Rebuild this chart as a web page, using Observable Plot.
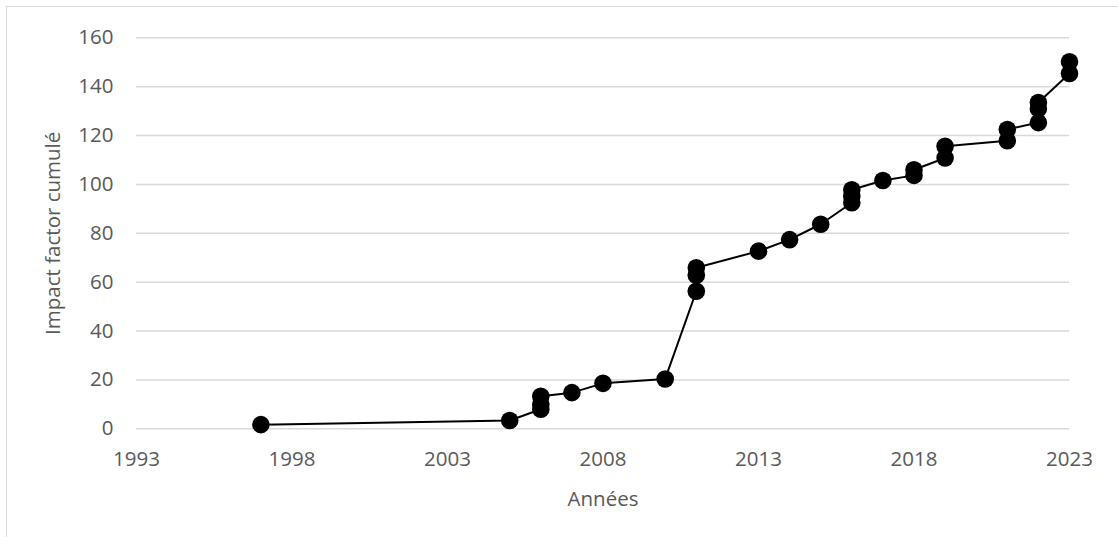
<!DOCTYPE html>
<html>
<head>
<meta charset="utf-8">
<script src="https://cdn.jsdelivr.net/npm/d3@7"></script>
<script src="https://cdn.jsdelivr.net/npm/@observablehq/plot@0.6"></script>
<style>
  html, body { margin: 0; padding: 0; background: #fff; }
  #wrap { position: relative; width: 1118px; height: 537px; overflow: hidden; }
  #frame { position: absolute; left: 6px; top: 6px; width: 1200px; height: 600px;
           border-top: 1.5px solid #d9d9d9; border-left: 1.5px solid #d9d9d9; pointer-events: none; }
  svg { display: block; }
</style>
</head>
<body>
<div id="wrap"><div id="frame"></div></div>
<script>
const years = [1997, 2005, 2006, 2006, 2006, 2007, 2008, 2010, 2011, 2011, 2011, 2013, 2014, 2015,
               2016, 2016, 2016, 2017, 2018, 2018, 2019, 2019, 2021, 2021, 2022, 2022, 2022, 2023, 2023];
const impact = [1.7, 3.4, 8.0, 10.0, 13.3, 14.8, 18.6, 20.4, 56.3, 62.8, 65.9, 72.7, 77.4, 83.7,
                92.5, 95.2, 97.8, 101.6, 103.7, 106.0, 110.8, 115.6, 117.9, 122.5, 125.3, 131.0, 133.5, 145.4, 150.2];
const xTicks = [1993, 1998, 2003, 2008, 2013, 2018, 2023];
const yTicks = [0, 20, 40, 60, 80, 100, 120, 140, 160];
const xTitle = "Années";
const yTitle = "Impact factor cumulé";

const data = years.map((y, i) => ({year: y, value: impact[i]}));

const chart = Plot.plot({
  width: 1118,
  height: 537,
  marginLeft: 136,
  marginRight: 49,
  marginTop: 37.3,
  marginBottom: 108.7,
  style: {fontFamily: "'Open Sans', sans-serif", fontSize: "20.5px", color: "#595959", background: "transparent", overflow: "visible"},
  x: {domain: [1993, 2023]},
  y: {domain: [0, 160]},
  marks: [
    Plot.gridY(yTicks, {stroke: "#d9d9d9", strokeOpacity: 1, strokeWidth: 1.6}),
    Plot.axisY(yTicks, {tickSize: 0, tickPadding: 23, label: yTitle, labelAnchor: "center", labelOffset: 91, labelArrow: false, fill: "#595959"}),
    Plot.axisX(xTicks, {tickSize: 0, tickPadding: 23, tickFormat: d => String(d), label: xTitle, labelAnchor: "center", labelOffset: 77, labelArrow: false, fill: "#595959"}),
    Plot.line(data, {x: "year", y: "value", stroke: "black", strokeWidth: 2}),
    Plot.dot(data, {x: "year", y: "value", r: 8.8, fill: "black", stroke: "none"})
  ]
});
chart.style.position = "absolute";
chart.style.left = "0";
chart.style.top = "0";
document.getElementById("wrap").appendChild(chart);
</script>
</body>
</html>
